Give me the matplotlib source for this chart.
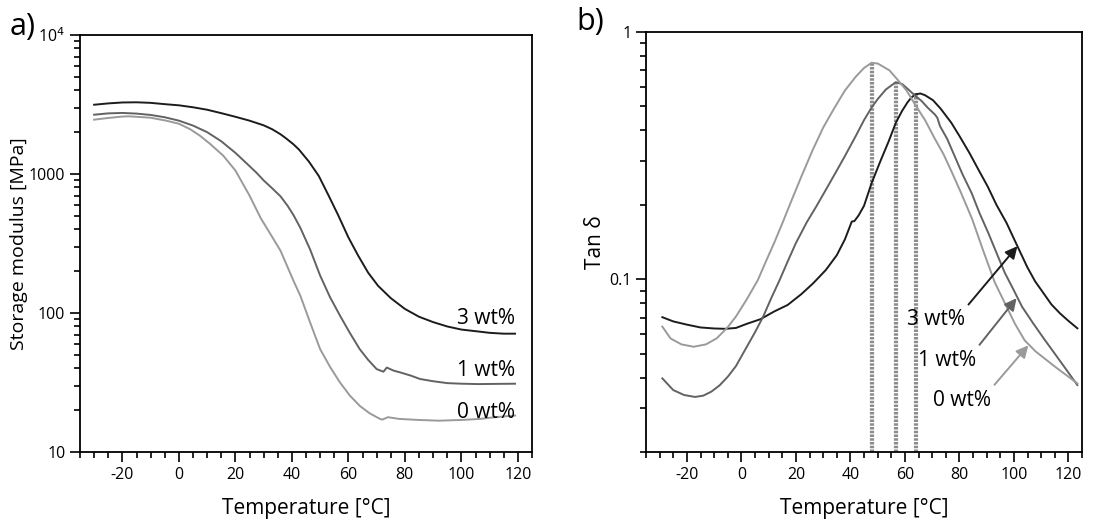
import matplotlib
matplotlib.use("Agg")
import matplotlib.pyplot as plt
from matplotlib.ticker import MultipleLocator, FixedLocator, FixedFormatter, LogLocator, NullFormatter

plt.rcParams["axes.unicode_minus"] = False

# ---------------- data: panel a) storage modulus [MPa] ----------------
T_a_3 = [-30, -25, -20, -15, -10, -5, 0, 5, 10, 15, 20, 25, 30, 33, 36, 38, 40.5, 42.5, 46, 49.5, 53,
         56.5, 60, 63.5, 67, 70.5, 75, 80, 85, 90, 95, 100, 105, 110, 115, 119]
E_3 = [3150, 3220, 3270, 3280, 3250, 3180, 3120, 3020, 2900, 2740, 2580, 2420, 2240, 2100, 1930, 1800,
       1640, 1500, 1230, 970, 700, 500, 350, 258, 195, 157, 128, 107, 94, 86, 80, 76, 74, 72, 71, 71]

T_a_1 = [-30, -25, -20, -15, -10, -5, 0, 5, 10, 15, 20, 25, 27.5, 30, 33, 36, 38.5, 40.6, 43, 46.5, 50,
         53.5, 57, 60.5, 64, 67, 70, 72.4, 73.6, 76, 78.3, 82, 85.4, 90, 95, 100, 106, 112, 119]
E_1 = [2670, 2730, 2750, 2720, 2660, 2560, 2420, 2230, 2000, 1720, 1420, 1140, 1020, 900, 790, 690,
       590, 505, 410, 285, 186, 130, 96, 72, 55, 46, 39.5, 37.8, 40.5, 38.5, 37.4, 35.5, 33.5, 32.3,
       31.3, 31, 30.8, 30.9, 31]

T_a_0 = [-30, -25, -20, -17.6, -10, -4.5, 0, 4, 7.4, 11, 15.7, 20, 25, 29, 33.5, 36, 40.6, 43, 46.5, 50,
         53.5, 57, 60.5, 64, 67.5, 71.2, 72, 74, 78, 85, 92, 100, 106.6, 112, 119]
E_0 = [2460, 2530, 2590, 2600, 2540, 2420, 2300, 2100, 1890, 1650, 1355, 1060, 700, 480, 340, 280, 170,
       133, 85, 55, 41, 31.7, 25.5, 21.5, 19, 17.3, 17.1, 17.8, 17.3, 17.0, 16.8, 17.0, 17.3, 17.8, 18.3]

# ---------------- data: panel b) tan delta ----------------
T_b_0 = [-29, -26, -22, -17.5, -13, -9, -5, -2, 2, 6, 9, 12, 15, 18, 22, 26, 30, 34, 38, 42, 45, 47.8,
         50.1, 54.3, 57.4, 60.6, 63.7, 67.4, 71.0, 74.2, 77.3, 80.5, 84.7, 88.8, 93.0, 96.7, 100.4,
         104.0, 108.0, 112.1, 116.0, 119.8, 123.3]
tan_0 = [0.0643, 0.0576, 0.0545, 0.0533, 0.0545, 0.0577, 0.064, 0.0706, 0.083, 0.099, 0.118, 0.140,
         0.168, 0.203, 0.26, 0.33, 0.41, 0.49, 0.58, 0.66, 0.715, 0.751, 0.745, 0.70, 0.64, 0.58, 0.51,
         0.44, 0.37, 0.32, 0.27, 0.225, 0.175, 0.13, 0.097, 0.08, 0.066, 0.0565, 0.051, 0.047, 0.0435,
         0.0405, 0.0379]

T_b_1 = [-29, -25, -21, -17, -14, -11, -8, -5, -2, 2, 5, 8, 11, 14, 17, 20, 24, 27.5, 31, 35, 38, 42, 45,
         47.8, 50, 53, 56.7, 59.1, 61.3, 63.2, 66.2, 68.3, 71.0, 71.9, 72.9, 75.5, 78.3, 81.2, 84.5,
         87.4, 90.6, 93.6, 96.7, 99.8, 103.0, 107.2, 111.4, 115.0, 118.5, 123.3]
tan_1 = [0.0397, 0.0356, 0.0340, 0.0334, 0.0338, 0.0351, 0.0372, 0.0403, 0.0445, 0.0533, 0.061, 0.0706,
         0.084, 0.099, 0.118, 0.140, 0.17, 0.197, 0.23, 0.275, 0.315, 0.38, 0.44, 0.495, 0.535, 0.585,
         0.627, 0.615, 0.585, 0.56, 0.525, 0.495, 0.464, 0.45, 0.416, 0.37, 0.314, 0.265, 0.223, 0.185,
         0.154, 0.128, 0.106, 0.091, 0.0774, 0.066, 0.0567, 0.050, 0.0442, 0.0373]

T_b_3 = [-29, -25, -20, -15, -10, -6, -2, 2, 7, 12, 17, 22, 26.4, 31, 35, 38, 39.5, 40.5, 41.5, 43, 45,
         47.8, 51, 54, 56.7, 59, 61, 62.5, 64, 65.7, 67.4, 70.3, 73.1, 77.0, 80.0, 83.7, 86.8, 90.4,
         93.6, 97.3, 101.3, 104.9, 107.8, 110.9, 113.8, 116.9, 119.9, 123.3]
tan_3 = [0.0702, 0.0675, 0.0655, 0.0638, 0.0632, 0.0630, 0.0635, 0.066, 0.0689, 0.074, 0.0787, 0.087,
         0.0964, 0.109, 0.125, 0.145, 0.160, 0.171, 0.172, 0.181, 0.198, 0.245, 0.30, 0.36, 0.43, 0.48,
         0.52, 0.545, 0.56, 0.564, 0.555, 0.53, 0.49, 0.43, 0.38, 0.324, 0.28, 0.237, 0.20, 0.169,
         0.136, 0.112, 0.098, 0.0877, 0.079, 0.0728, 0.068, 0.0633]

peak_T = [47.8, 56.7, 63.9]
peak_tan = [0.751, 0.627, 0.564]

labels = ["3 wt%", "1 wt%", "0 wt%"]
colors = ["#1c1c1c", "#626262", "#9a9a9a"]

# label/arrow anchors in panel b)
lab_T = [71.5, 75.6, 81.0]
lab_tan = [0.0684, 0.047, 0.0324]
tip_T = [101.3, 101.0, 105.3]
tip_tan = [0.136, 0.0838, 0.054]
# label anchors in panel a)
lab_a_T = [119, 119, 119]
lab_a_E = [84, 35.0, 17.6]

TXT = ["Open Sans", "DejaVu Sans"]
TICK = ["Open Sans", "DejaVu Sans"]

fig = plt.figure(figsize=(11, 5.25), dpi=100)
W, H = 1100, 525
ax1 = fig.add_axes([80 / W, (H - 452) / H, 452 / W, 417 / H])
ax2 = fig.add_axes([646 / W, (H - 452) / H, 436 / W, 420 / H])

lw = 1.4
ax1.plot(T_a_3, E_3, color=colors[0], lw=lw)
ax1.plot(T_a_1, E_1, color=colors[1], lw=lw)
ax1.plot(T_a_0, E_0, color=colors[2], lw=lw)

for i in range(3):
    ax1.text(lab_a_T[i], lab_a_E[i], labels[i], ha="right", va="baseline",
             fontsize=15, family=TXT, color="black")

for i in range(3):
    ax2.plot([peak_T[i], peak_T[i]], [0.02, peak_tan[i]], color="#8c8c8c", lw=3.0,
             linestyle=(0, (0.6, 0.3)), zorder=1)

ax2.plot(T_b_3, tan_3, color=colors[0], lw=lw, zorder=3)
ax2.plot(T_b_1, tan_1, color=colors[1], lw=lw, zorder=3)
ax2.plot(T_b_0, tan_0, color=colors[2], lw=lw, zorder=3)

for i in range(3):
    ax2.annotate(labels[i], xy=(tip_T[i], tip_tan[i]), xytext=(lab_T[i], lab_tan[i]),
                 ha="center", va="center", fontsize=15, family=TXT, color="black",
                 arrowprops=dict(arrowstyle="-|>", color=colors[i], lw=1.4, mutation_scale=18,
                                 shrinkA=2, shrinkB=0, relpos=(0.97, 0.95)), zorder=4)

for ax in (ax1, ax2):
    ax.set_xlim(-35, 125)
    ax.set_yscale("log")
    ax.xaxis.set_major_locator(MultipleLocator(20))
    ax.xaxis.set_minor_locator(MultipleLocator(5))
    ax.tick_params(axis="both", which="major", direction="out", length=7, width=1.2,
                   top=False, right=False)
    ax.tick_params(axis="both", which="minor", direction="out", length=4, width=1.2,
                   top=False, right=False)
    for s in ax.spines.values():
        s.set_linewidth(1.3)
        s.set_color("black")
    ax.set_xlabel("Temperature [°C]", fontsize=15, family=TXT)

ax1.set_ylim(10, 1e4)
ax1.yaxis.set_major_locator(FixedLocator([10, 100, 1000, 10000]))
ax1.yaxis.set_major_formatter(FixedFormatter(["10", "100", "1000", r"10$^{4}$"]))
ax1.yaxis.set_minor_locator(LogLocator(base=10, subs=[2, 3, 4, 5, 6, 7, 8, 9], numticks=20))
ax1.yaxis.set_minor_formatter(NullFormatter())
ax1.set_ylabel("Storage modulus [MPa]", fontsize=14, family=TXT)

ax2.set_ylim(0.02, 1)
ax2.yaxis.set_major_locator(FixedLocator([0.1, 1]))
ax2.yaxis.set_major_formatter(FixedFormatter(["0.1", "1"]))
ax2.yaxis.set_minor_locator(LogLocator(base=10, subs=[2, 3, 4, 5, 6, 7, 8, 9], numticks=20))
ax2.yaxis.set_minor_formatter(NullFormatter())
ax2.set_ylabel("Tan δ", fontsize=15, family=TXT)

for ax in (ax1, ax2):
    for lab in ax.get_xticklabels() + ax.get_yticklabels():
        lab.set_family(TICK)
        lab.set_fontsize(11.5)

ax1.yaxis.set_label_coords(-0.115, 0.5)
ax2.yaxis.set_label_coords(-0.092, 0.5)
ax1.xaxis.set_label_coords(0.5, -0.11)
ax2.xaxis.set_label_coords(0.5, -0.11)

fig.text(10 / W, 1 - 12 / H, "a)", fontsize=22, family=TXT, va="top", ha="left")
fig.text(576 / W, 1 - 7 / H, "b)", fontsize=22, family=TXT, va="top", ha="left")

fig.savefig("out.png", dpi=100, facecolor="white")
